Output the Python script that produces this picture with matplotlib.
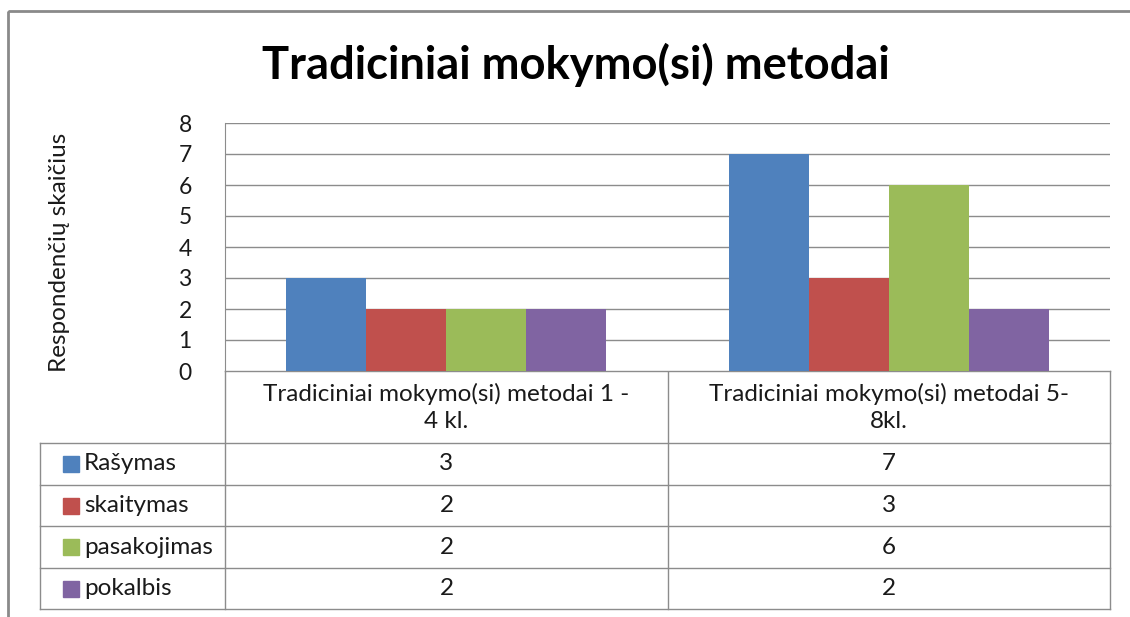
import numpy as np
import matplotlib
matplotlib.use('Agg')
import matplotlib.pyplot as plt
from matplotlib.patches import Rectangle

plt.rcParams['font.family'] = ['Lato', 'DejaVu Sans']

# chart data
title = 'Tradiciniai mokymo(si) metodai'
ylabel = 'Respondenčių skaičius'
categories = ['Tradiciniai mokymo(si) metodai 1 -\n4 kl.', 'Tradiciniai mokymo(si) metodai 5-\n8kl.']
series = ['Rašymas', 'skaitymas', 'pasakojimas', 'pokalbis']
rasymas = [3, 7]
skaitymas = [2, 3]
pasakojimas = [2, 6]
pokalbis = [2, 2]
colors = ['#4F81BD', '#C0504D', '#9BBB59', '#8064A2']
yticks = [0, 1, 2, 3, 4, 5, 6, 7, 8]

values = [rasymas, skaitymas, pasakojimas, pokalbis]

W, H = 1130, 617
fig = plt.figure(figsize=(W / 100, H / 100), dpi=100)

# pixel layout
px_left, px_right = 225, 1110
px_top, px_bot = 123, 371
col_mid = 668
tab_left = 40
row_edges = [371, 443, 485, 526, 568, 609]
grid_col = '#8c8c8c'
txt_col = '#1a1a1a'

# overlay in pixel coordinates for frame + table
ov = fig.add_axes([0, 0, 1, 1])
ov.set_xlim(0, W)
ov.set_ylim(H, 0)
ov.axis('off')

# main bar plot
ax = fig.add_axes([px_left / W, (H - px_bot) / H, (px_right - px_left) / W, (px_bot - px_top) / H])
x = np.arange(len(categories))
bw = 0.181
for i, (name, vals) in enumerate(zip(series, values)):
    ax.bar(x + (i - 1.5) * bw, vals, bw, color=colors[i], zorder=3)
ax.set_xlim(-0.5, len(categories) - 0.5)
ax.set_ylim(0, 8)
ax.set_yticks(yticks)
ax.set_yticklabels([str(t) for t in yticks], fontsize=16.5, color=txt_col)
ax.tick_params(axis='y', length=0, pad=24)
ax.set_xticks([])
ax.grid(axis='y', color=grid_col, lw=1, zorder=0)
for s in ['top', 'right', 'bottom']:
    ax.spines[s].set_visible(False)
ax.spines['left'].set_color(grid_col)

fig.text(576 / W, 1 - 65 / H, title, ha='center', va='center', fontsize=32.7, fontweight='bold')
fig.text(60 / W, 1 - 252 / H, ylabel, ha='center', va='center', rotation=90, fontsize=17.5, color=txt_col)

# outer frame
ov.add_patch(Rectangle((8, 11), 1140, 640, fill=False, ec='#8a8a8a', lw=2))

# table grid
lk = dict(color=grid_col, lw=1)
ov.plot([px_left, px_right], [row_edges[0]] * 2, **lk)
for y in row_edges[1:]:
    ov.plot([tab_left, px_right], [y, y], **lk)
ov.plot([tab_left, tab_left], [row_edges[1], row_edges[-1]], **lk)
for xx in [px_left, col_mid, px_right]:
    ov.plot([xx, xx], [row_edges[0], row_edges[-1]], **lk)

col_centers = [(px_left + col_mid) / 2, (col_mid + px_right) / 2]
for c, cat in enumerate(categories):
    ov.text(col_centers[c], (row_edges[0] + row_edges[1]) / 2, cat, ha='center', va='center',
            fontsize=17.5, color=txt_col, linespacing=1.35)
for r, (name, vals) in enumerate(zip(series, values)):
    yc = (row_edges[r + 1] + row_edges[r + 2]) / 2
    ov.add_patch(Rectangle((63, yc - 8), 16, 16, color=colors[r]))
    ov.text(84, yc, name, ha='left', va='center', fontsize=17.5, color=txt_col)
    for c in range(len(categories)):
        ov.text(col_centers[c], yc, str(vals[c]), ha='center', va='center', fontsize=17.5, color=txt_col)

fig.savefig('out.png', dpi=100)
